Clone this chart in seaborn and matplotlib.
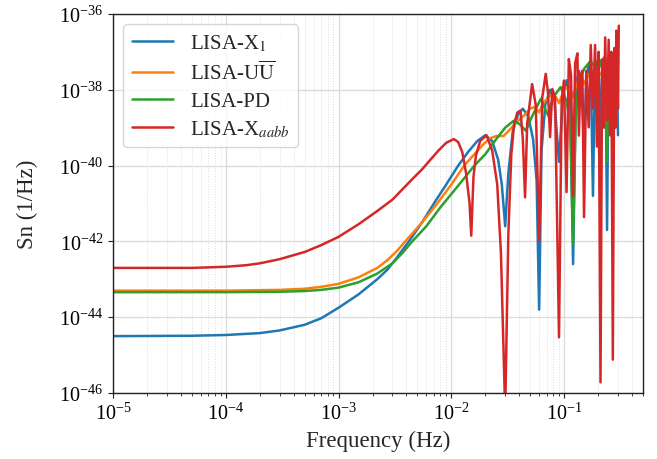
import numpy as np
import pandas as pd
import matplotlib
matplotlib.use('Agg')
import matplotlib.pyplot as plt
import seaborn as sns
from matplotlib.ticker import LogLocator, NullFormatter

# values, Sn given as log10 exponents
f_x1 = [1e-5, 5e-5, 1e-4, 2e-4, 3e-4, 5e-4, 7e-4, 1e-3, 1.5e-3, 2.2e-3, 2.7e-3, 3.3e-3,
        4.2e-3, 5.5e-3, 7e-3, 9e-3, 1.15e-2, 1.4e-2, 1.7e-2, 2.0e-2, 2.3e-2, 2.6e-2,
        2.8e-2, 3.0e-2, 3.2e-2, 3.5e-2, 3.9e-2, 4.3e-2, 4.8e-2, 5.3e-2, 5.7e-2, 6.0e-2,
        6.3e-2, 6.8e-2, 7.5e-2, 8.2e-2, 9.0e-2, 9.8e-2, 0.105, 0.113, 0.12, 0.127, 0.135,
        0.143, 0.15, 0.157, 0.165, 0.173, 0.18, 0.187, 0.195, 0.203, 0.21, 0.217, 0.225,
        0.233, 0.24, 0.247, 0.255, 0.263, 0.27, 0.277, 0.285, 0.293, 0.30]
s_x1 = [-44.50, -44.49, -44.47, -44.42, -44.35, -44.20, -44.03, -43.75, -43.40, -43.0,
        -42.75, -42.42, -42.0, -41.5, -41.0, -40.5, -40.0, -39.65, -39.35, -39.2, -39.35,
        -39.85, -40.5, -41.6, -40.2, -39.1, -38.65, -38.5, -38.7, -39.3, -40.4, -43.8,
        -39.6, -38.4, -38.0, -38.3, -39.9, -38.1, -37.75, -38.3, -42.6, -37.9, -37.5,
        -38.0, -39.6, -37.7, -37.35, -37.8, -40.8, -37.6, -37.25, -37.7, -39.5, -37.5,
        -37.15, -37.6, -41.7, -37.5, -37.05, -37.5, -39.4, -37.4, -37.0, -37.4, -39.2]

f_uu = [1e-5, 1e-4, 3e-4, 5e-4, 7e-4, 1e-3, 1.5e-3, 2.2e-3, 2.7e-3, 3.3e-3, 3.9e-3,
        5.5e-3, 7.5e-3, 1e-2, 1.3e-2, 1.6e-2, 1.9e-2, 2.2e-2, 2.5e-2, 2.9e-2, 3.3e-2,
        3.8e-2, 4.5e-2, 5.0e-2, 5.5e-2, 6.0e-2, 6.5e-2, 7.5e-2, 8.5e-2, 9.0e-2, 0.10,
        0.11, 0.12, 0.13, 0.145, 0.15, 0.165, 0.18, 0.195, 0.21, 0.225, 0.24, 0.255,
        0.27, 0.285, 0.30]
s_uu = [-43.30, -43.30, -43.28, -43.25, -43.20, -43.12, -42.95, -42.70, -42.50, -42.25,
        -42.0, -41.5, -41.0, -40.5, -40.0, -39.7, -39.45, -39.28, -39.22, -39.22,
        -39.05, -38.85, -38.65, -38.5, -38.45, -38.6, -38.35, -38.15, -38.2, -38.35,
        -38.0, -37.9, -38.2, -37.8, -37.7, -37.85, -37.6, -37.75, -37.5, -37.6, -37.45,
        -37.6, -37.4, -37.5, -37.35, -37.32]

f_pd = [1e-5, 1e-4, 3e-4, 5e-4, 7e-4, 1e-3, 1.5e-3, 2.2e-3, 3e-3, 3.7e-3, 4.5e-3, 6e-3,
        8e-3, 1.1e-2, 1.6e-2, 2.0e-2, 2.5e-2, 3.0e-2, 3.56e-2, 4.0e-2, 4.57e-2, 5.2e-2,
        6.2e-2, 7.2e-2, 8.0e-2, 9.3e-2, 0.105, 0.113, 0.12, 0.127, 0.135, 0.15, 0.17,
        0.19, 0.205, 0.22, 0.233, 0.24, 0.247, 0.26, 0.28, 0.30]
s_pd = [-43.34, -43.34, -43.33, -43.31, -43.28, -43.22, -43.08, -42.85, -42.58, -42.3,
        -42.0, -41.6, -41.1, -40.6, -40.0, -39.7, -39.3, -39.0, -38.82, -38.9, -39.08,
        -38.7, -38.24, -38.68, -38.2, -37.93, -38.3, -38.9, -42.07, -38.5, -37.8, -37.45,
        -37.25, -37.4, -37.2, -37.5, -38.3, -39.9, -38.0, -37.2, -37.1, -37.23]

f_aabb = [1e-5, 5e-5, 1e-4, 1.5e-4, 2e-4, 3e-4, 5e-4, 7e-4, 1e-3, 1.5e-3, 2.2e-3, 3e-3,
          3.7e-3, 4.6e-3, 5.5e-3, 6.5e-3, 7.7e-3, 9e-3, 1.05e-2, 1.15e-2, 1.25e-2,
          1.35e-2, 1.45e-2, 1.5e-2, 1.57e-2, 1.65e-2, 1.8e-2, 2.05e-2, 2.3e-2, 2.55e-2,
          2.75e-2, 3.0e-2, 3.2e-2, 3.4e-2, 3.6e-2, 3.85e-2, 4.1e-2, 4.3e-2, 4.5e-2,
          4.7e-2, 5.2e-2, 5.6e-2, 6.0e-2, 6.4e-2, 6.86e-2, 7.2e-2, 7.5e-2, 7.85e-2,
          8.3e-2, 9.0e-2, 9.5e-2, 9.95e-2, 0.105, 0.110, 0.115, 0.120, 0.125, 0.131,
          0.135, 0.140, 0.145, 0.150, 0.157, 0.165, 0.172, 0.180, 0.188, 0.195, 0.202,
          0.210, 0.217, 0.225, 0.231, 0.240, 0.248, 0.255, 0.262, 0.270, 0.278, 0.285,
          0.290, 0.300, 0.305]
s_aabb = [-42.70, -42.70, -42.67, -42.63, -42.58, -42.47, -42.28, -42.10, -41.88, -41.55,
          -41.2, -40.9, -40.62, -40.33, -40.1, -39.85, -39.6, -39.4, -39.3, -39.38,
          -39.65, -40.2, -41.0, -41.85, -40.3, -39.74, -39.35, -39.2, -39.6, -40.5,
          -42.3, -46.5, -41.8, -39.7, -38.9, -38.6, -38.55, -39.3, -40.84, -38.9, -37.85,
          -38.4, -41.98, -38.2, -37.58, -38.1, -39.25, -37.98, -38.2, -44.53, -38.3,
          -37.76, -40.7, -37.19, -37.6, -40.8, -37.3, -37.04, -39.21, -37.6, -37.5,
          -41.36, -37.5, -38.99, -36.82, -38.5, -36.82, -39.5, -37.0, -45.72, -37.2,
          -39.0, -36.62, -38.8, -36.68, -39.2, -37.0, -45.12, -36.9, -39.0, -36.44,
          -38.5, -36.31]

labels = [r'LISA-X$_1$', r'LISA-U$\overline{\mathrm{U}}$', 'LISA-PD', r'LISA-X$_{aabb}$']
colors = ['#1f77b4', '#ff7f0e', '#2ca02c', '#d62728']

frames = []
for name, f, s in zip(labels, [f_x1, f_uu, f_pd, f_aabb], [s_x1, s_uu, s_pd, s_aabb]):
    frames.append(pd.DataFrame({'f': f, 'Sn': np.power(10.0, s), 'det': name}))
df = pd.concat(frames, ignore_index=True)

sns.set_style('whitegrid')
plt.rcParams['font.family'] = ['Liberation Serif', 'DejaVu Serif']
plt.rcParams['mathtext.fontset'] = 'stix'

fig = plt.figure(figsize=(6.57, 4.60), dpi=100)
ax = fig.add_axes([0.172, 0.1435, 0.8067, 0.824])

sns.lineplot(data=df, x='f', y='Sn', hue='det', palette=colors, estimator=None,
             sort=False, linewidth=1.8, legend=False, ax=ax)

ax.set_xscale('log')
ax.set_yscale('log')
ax.set_xlim(1e-5, 0.5)
ax.set_ylim(1e-46, 1e-36)
ax.set_yticks([1e-46, 1e-44, 1e-42, 1e-40, 1e-38, 1e-36])
ax.yaxis.set_minor_locator(plt.NullLocator())
ax.xaxis.set_minor_locator(LogLocator(base=10, subs=np.arange(2, 10)))
ax.xaxis.set_minor_formatter(NullFormatter())

ax.grid(which='major', color='#dcdcdc', linewidth=1.0, linestyle='-')
ax.grid(which='minor', axis='x', color='#dddddd', linewidth=0.7, linestyle=':')
ax.grid(which='minor', axis='y', visible=False)

for sp in ax.spines.values():
    sp.set_color('#222222')
    sp.set_linewidth(1.0)
ax.tick_params(which='major', direction='out', length=3.5, width=0.8, colors='#222222',
               labelsize=14.5, bottom=True, left=True, labelcolor='black')
ax.tick_params(which='minor', direction='out', length=2, width=0.6, colors='#222222',
               bottom=True, left=False)

ax.set_xlabel('Frequency (Hz)', fontsize=16.5)
ax.set_ylabel('Sn (1/Hz)', fontsize=16.5, labelpad=15)

ax.legend(handles=ax.get_lines()[:4], labels=labels, loc='upper left', fontsize=15,
          frameon=True, framealpha=0.8, edgecolor='#cccccc', fancybox=True,
          labelspacing=0.35)

fig.savefig('out.png', dpi=100)
